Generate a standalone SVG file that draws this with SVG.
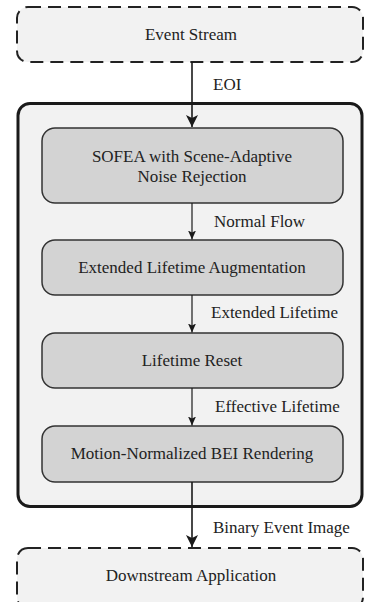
<svg xmlns="http://www.w3.org/2000/svg" width="365" height="602" viewBox="0 0 365 602">
<defs>
<marker id="ah-big" markerWidth="12" markerHeight="14" refX="12" refY="6" orient="auto" markerUnits="userSpaceOnUse">
<path d="M0,0 L12,6 L0,12 L3,6 Z" fill="#1a1a1a"/>
</marker>
<marker id="ah-small" markerWidth="9" markerHeight="9" refX="9" refY="4" orient="auto" markerUnits="userSpaceOnUse">
<path d="M0,0 L9,4 L0,8 L2,4 Z" fill="#1a1a1a"/>
</marker>
</defs>
<style>
text{font-family:'Liberation Serif','DejaVu Serif',serif;font-size:17px;fill:#222}
.c{text-anchor:middle}
.dash{fill:#f2f2f2;stroke:#222;stroke-width:2;stroke-dasharray:13 7}
.outer{fill:#f2f2f2;stroke:#1a1a1a;stroke-width:3}
.box{fill:#d3d3d3;stroke:#333;stroke-width:1.5}
.edge{stroke:#1a1a1a;fill:none}
</style>
<rect width="365" height="602" fill="#fff"/>
<g font-family="Liberation Serif, DejaVu Serif, serif">
<g id="event-stream">
<rect class="dash" x="17" y="7" width="346" height="55" rx="11"/>
<text class="c" x="191" y="40">Event Stream</text>
</g>
<g id="container">
<rect class="outer" x="18" y="103.5" width="344" height="403" rx="12"/>
</g>
<g id="sofea">
<rect class="box" x="42" y="128" width="301" height="75" rx="13"/>
<text class="c" x="192" y="162">SOFEA with Scene-Adaptive</text>
<text class="c" x="192" y="182">Noise Rejection</text>
</g>
<g id="extended">
<rect class="box" x="42" y="240" width="301" height="55" rx="13"/>
<text class="c" x="192" y="273">Extended Lifetime Augmentation</text>
</g>
<g id="reset">
<rect class="box" x="42" y="333" width="301" height="55" rx="13"/>
<text class="c" x="192" y="366">Lifetime Reset</text>
</g>
<g id="rendering">
<rect class="box" x="42" y="426" width="301" height="56" rx="13"/>
<text class="c" x="192" y="459">Motion-Normalized BEI Rendering</text>
</g>
<g id="downstream">
<rect class="dash" x="17" y="548" width="346" height="60" rx="11"/>
<text class="c" x="191" y="581">Downstream Application</text>
</g>
<g id="connectors">
<line class="edge" x1="192" y1="62" x2="192" y2="127" stroke-width="1.6" marker-end="url(#ah-big)"/>
<line class="edge" x1="192" y1="203" x2="192" y2="239.5" stroke-width="1.2" marker-end="url(#ah-small)"/>
<line class="edge" x1="192" y1="295" x2="192" y2="332.5" stroke-width="1.2" marker-end="url(#ah-small)"/>
<line class="edge" x1="192" y1="388" x2="192" y2="425.5" stroke-width="1.2" marker-end="url(#ah-small)"/>
<line class="edge" x1="192" y1="482" x2="192" y2="547" stroke-width="1.6" marker-end="url(#ah-big)"/>
<text x="213" y="90">EOI</text>
<text x="214" y="227">Normal Flow</text>
<text x="211" y="318">Extended Lifetime</text>
<text x="215" y="412">Effective Lifetime</text>
<text x="213" y="533">Binary Event Image</text>
</g>
</g>
</svg>
